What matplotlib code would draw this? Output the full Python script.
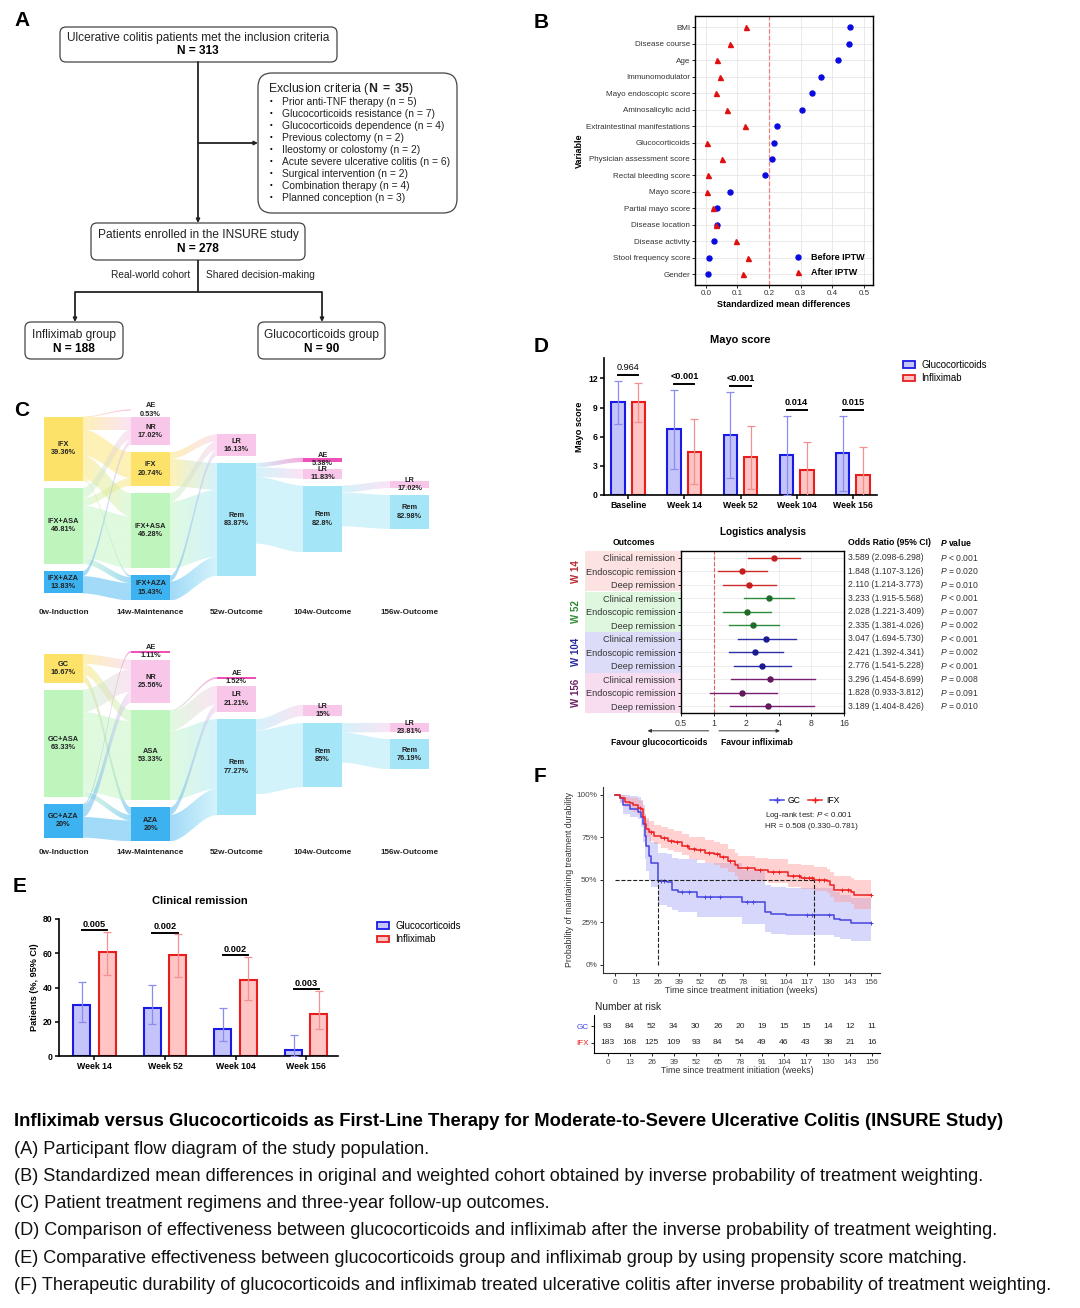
import numpy as np
import matplotlib
matplotlib.use('Agg')
import matplotlib.pyplot as plt
import matplotlib.transforms as mtrans
from matplotlib.patches import FancyBboxPatch, Rectangle, Polygon, Patch
from matplotlib.lines import Line2D
from matplotlib.colors import to_rgba

plt.rcParams['font.family'] = ['Liberation Sans', 'DejaVu Sans']
plt.rcParams['mathtext.fontset'] = 'custom'
plt.rcParams['mathtext.rm'] = 'Liberation Sans'
plt.rcParams['mathtext.it'] = 'Liberation Sans:italic'
plt.rcParams['mathtext.bf'] = 'Liberation Sans:bold'
try:
    plt.rcParams['mathtext.bfit'] = 'Liberation Sans:italic:bold'
    PHEAD = r'$\mathbfit{P}$ value'
except KeyError:
    PHEAD = r'$P$ value'

# ---------------- data ----------------
# panel A
excl_items = ['Prior anti-TNF therapy (n = 5)', 'Glucocorticoids resistance (n = 7)',
              'Glucocorticoids dependence (n = 4)', 'Previous colectomy (n = 2)',
              'Ileostomy or colostomy (n = 2)', 'Acute severe ulcerative colitis (n = 6)',
              'Surgical intervention (n = 2)', 'Combination therapy (n = 4)',
              'Planned conception (n = 3)']

# panel B
smd_vars = ['BMI', 'Disease course', 'Age', 'Immunomodulator', 'Mayo endoscopic score',
            'Aminosalicylic acid', 'Extraintestinal manifestations', 'Glucocorticoids',
            'Physician assessment score', 'Rectal bleeding score', 'Mayo score',
            'Partial mayo score', 'Disease location', 'Disease activity',
            'Stool frequency score', 'Gender']
smd_before = [0.455, 0.453, 0.417, 0.364, 0.335, 0.304, 0.224, 0.216, 0.210, 0.186,
              0.075, 0.037, 0.035, 0.025, 0.010, 0.006]
smd_after = [0.127, 0.075, 0.036, 0.046, 0.032, 0.068, 0.124, 0.004, 0.051, 0.006,
             0.004, 0.022, 0.032, 0.095, 0.134, 0.119]

# panel C (patients per node, flows as (stage, source, target, n))
stage_titles = ['0w-Induction', '14w-Maintenance', '52w-Outcome', '104w-Outcome', '156w-Outcome']
ifx_names = [['IFX', 'IFX+ASA', 'IFX+AZA'], ['AE', 'NR', 'IFX', 'IFX+ASA', 'IFX+AZA'],
             ['LR', 'Rem'], ['AE', 'LR', 'Rem'], ['LR', 'Rem']]
ifx_counts = [[74, 88, 26], [1, 32, 39, 87, 29], [25, 130], [5, 11, 77], [8, 39]]
ifx_pcts = [['39.36%', '46.81%', '13.83%'], ['0.53%', '17.02%', '20.74%', '46.28%', '15.43%'],
            ['16.13%', '83.87%'], ['5.38%', '11.83%', '82.8%'], ['17.02%', '82.98%']]
ifx_flows = [(0, 0, 0, 1), (0, 0, 1, 14), (0, 0, 2, 30), (0, 0, 3, 27), (0, 0, 4, 2),
             (0, 1, 1, 12), (0, 1, 2, 9), (0, 1, 3, 60), (0, 1, 4, 7),
             (0, 2, 1, 6), (0, 2, 4, 20),
             (1, 2, 0, 8), (1, 2, 1, 31), (1, 3, 0, 10), (1, 3, 1, 77), (1, 4, 0, 7), (1, 4, 1, 22),
             (2, 1, 0, 5), (2, 1, 1, 11), (2, 1, 2, 77),
             (3, 2, 0, 8), (3, 2, 1, 39)]
gc_names = [['GC', 'GC+ASA', 'GC+AZA'], ['AE', 'NR', 'ASA', 'AZA'],
            ['AE', 'LR', 'Rem'], ['LR', 'Rem'], ['LR', 'Rem']]
gc_counts = [[15, 57, 18], [1, 23, 48, 18], [1, 14, 51], [6, 34], [5, 16]]
gc_pcts = [['16.67%', '63.33%', '20%'], ['1.11%', '25.56%', '53.33%', '20%'],
           ['1.52%', '21.21%', '77.27%'], ['15%', '85%'], ['23.81%', '76.19%']]
gc_flows = [(0, 0, 1, 5), (0, 0, 2, 6), (0, 0, 3, 4),
            (0, 1, 1, 12), (0, 1, 2, 42), (0, 1, 3, 3),
            (0, 2, 0, 1), (0, 2, 1, 6), (0, 2, 3, 11),
            (1, 2, 0, 1), (1, 2, 1, 10), (1, 2, 2, 37), (1, 3, 1, 4), (1, 3, 2, 14),
            (2, 2, 0, 6), (2, 2, 1, 34),
            (3, 1, 0, 5), (3, 1, 1, 16)]
node_colors = {'IFX': '#FDE26A', 'GC': '#FDE26A', 'IFX+ASA': '#BDF5BD', 'GC+ASA': '#BDF5BD',
               'ASA': '#BDF5BD', 'IFX+AZA': '#3DB2F0', 'GC+AZA': '#3DB2F0', 'AZA': '#3DB2F0',
               'NR': '#F8C6E8', 'LR': '#F8C6E8', 'AE': '#EE50B8', 'Rem': '#A4E6F8'}

# panel D
mayo_groups = ['Baseline', 'Week 14', 'Week 52', 'Week 104', 'Week 156']
mayo_gc = [9.55, 6.75, 6.2, 4.1, 4.3]
mayo_gc_sd = [2.2, 4.1, 4.45, 4.05, 3.85]
mayo_ifx = [9.55, 4.45, 3.9, 2.6, 2.1]
mayo_ifx_sd = [2.0, 3.35, 3.25, 2.9, 2.85]
mayo_p = ['0.964', '<0.001', '<0.001', '0.014', '0.015']

forest_groups = ['W 14', 'W 52', 'W 104', 'W 156']
forest_outcomes = ['Clinical remission', 'Endoscopic remission', 'Deep remission'] * 4
forest_or = [3.589, 1.848, 2.110, 3.233, 2.028, 2.335, 3.047, 2.421, 2.776, 3.296, 1.828, 3.189]
forest_lo = [2.098, 1.107, 1.214, 1.915, 1.221, 1.381, 1.694, 1.392, 1.541, 1.454, 0.933, 1.404]
forest_hi = [6.298, 3.126, 3.773, 5.568, 3.409, 4.026, 5.730, 4.341, 5.228, 8.699, 3.812, 8.426]
forest_p = ['< 0.001', '= 0.020', '= 0.010', '< 0.001', '= 0.007', '= 0.002',
            '< 0.001', '= 0.002', '< 0.001', '= 0.008', '= 0.091', '= 0.010']

# panel E
cr_groups = ['Week 14', 'Week 52', 'Week 104', 'Week 156']
cr_gc = [30.0, 28.3, 15.8, 3.4]
cr_gc_lo = [20.0, 18.5, 8.5, 0.0]
cr_gc_hi = [43.5, 41.5, 27.8, 12.0]
cr_ifx = [60.5, 58.7, 44.5, 24.8]
cr_ifx_lo = [47.5, 46.0, 32.5, 15.5]
cr_ifx_hi = [72.5, 71.0, 57.8, 37.8]
cr_p = ['0.005', '0.002', '0.002', '0.003']

# panel F
gc_t = [0, 3, 5, 9, 14, 16, 17, 18, 19, 20.5, 22, 26.3, 31.5, 34.5, 38.5, 49.6, 77, 91, 95, 104,
        133, 137, 143.6]
gc_s = [1.0, 0.98, 0.94, 0.92, 0.90, 0.87, 0.83, 0.76, 0.70, 0.64, 0.60, 0.494, 0.485, 0.44,
        0.425, 0.40, 0.366, 0.31, 0.30, 0.295, 0.27, 0.26, 0.242]
gc_lo = [1.0, 0.95, 0.89, 0.87, 0.86, 0.81, 0.72, 0.62, 0.55, 0.50, 0.46, 0.35, 0.34, 0.32,
         0.31, 0.28, 0.24, 0.19, 0.18, 0.175, 0.16, 0.15, 0.14]
gc_hi = [1.0, 1.0, 1.0, 0.995, 0.99, 0.97, 0.94, 0.89, 0.85, 0.80, 0.72, 0.66, 0.65, 0.63,
         0.62, 0.60, 0.56, 0.47, 0.46, 0.45, 0.43, 0.41, 0.39]
gc_cens = [28, 30, 41, 45, 55, 58, 64, 80, 84, 117, 120, 130, 156]
ifx_t = [0, 3, 6, 9, 11, 14, 16, 17, 18, 19, 20.5, 24, 28, 32, 36, 41, 45, 49, 55, 60,
         64, 69, 73, 75, 85, 93, 105, 113, 121, 129, 131, 133, 143.6, 145.6]
ifx_s = [1.0, 0.98, 0.96, 0.95, 0.94, 0.925, 0.915, 0.87, 0.83, 0.80, 0.78, 0.76, 0.745, 0.73,
         0.72, 0.70, 0.68, 0.675, 0.66, 0.65, 0.635, 0.61, 0.585, 0.567, 0.557, 0.545, 0.52,
         0.51, 0.50, 0.49, 0.47, 0.44, 0.43, 0.41]
ifx_lo = [1.0, 0.96, 0.93, 0.91, 0.90, 0.88, 0.87, 0.82, 0.78, 0.75, 0.73, 0.71, 0.69, 0.675,
          0.665, 0.645, 0.625, 0.615, 0.60, 0.585, 0.57, 0.545, 0.52, 0.50, 0.49, 0.48, 0.455,
          0.445, 0.435, 0.42, 0.40, 0.37, 0.355, 0.33]
ifx_hi = [1.0, 1.0, 0.99, 0.985, 0.98, 0.97, 0.965, 0.925, 0.89, 0.865, 0.845, 0.825, 0.81,
          0.80, 0.79, 0.77, 0.755, 0.75, 0.735, 0.72, 0.71, 0.68, 0.655, 0.64, 0.63, 0.62,
          0.595, 0.585, 0.575, 0.565, 0.545, 0.52, 0.51, 0.50]
ifx_cens = [15, 22, 30, 34, 38, 44, 48, 52, 57, 62, 66, 70, 80, 88, 96, 100, 108, 112, 115,
            118, 120, 124, 127, 138, 142, 156]
risk_times = list(range(0, 157, 13))
risk_gc = [93, 84, 52, 34, 30, 26, 20, 19, 15, 15, 14, 12, 11]
risk_ifx = [183, 168, 125, 109, 93, 84, 54, 49, 46, 43, 38, 21, 16]

captions = ['(A) Participant flow diagram of the study population.',
            '(B) Standardized mean differences in original and weighted cohort obtained by inverse probability of treatment weighting.',
            '(C) Patient treatment regimens and three-year follow-up outcomes.',
            '(D) Comparison of effectiveness between glucocorticoids and infliximab after the inverse probability of treatment weighting.',
            '(E) Comparative effectiveness between glucocorticoids group and infliximab group by using propensity score matching.',
            '(F) Therapeutic durability of glucocorticoids and infliximab treated ulcerative colitis after inverse probability of treatment weighting.']

# ---------------- figure ----------------
W, H = 1080, 1308
fig = plt.figure(figsize=(W / 100, H / 100), dpi=100)
canvas = fig.add_axes([0, 0, 1, 1])
canvas.axis('off')


def px_axes(x0, y0, x1, y1):
    return fig.add_axes([x0 / W, 1 - y1 / H, (x1 - x0) / W, (y1 - y0) / H])


def letter(x, y, s):
    canvas.text(x, y, s, fontsize=15, fontweight='bold', ha='center', va='center')


GC_FACE, GC_EDGE, GC_ERR = '#C4C4FA', '#1A1AE6', '#8C8CF0'
IFX_FACE, IFX_EDGE, IFX_ERR = '#FFC4C4', '#E81E1E', '#F59090'

# ---- A: flow chart
def fbox(x0, y0, x1, y1, r=6):
    canvas.add_patch(FancyBboxPatch((x0, y0), x1 - x0, y1 - y0,
                                    boxstyle='round,pad=0,rounding_size=%g' % r,
                                    fc='white', ec='#444444', lw=0.9))


def arrow(x0, y0, x1, y1):
    canvas.annotate('', xy=(x1, y1), xytext=(x0, y0),
                    arrowprops=dict(arrowstyle='-|>', lw=1.3, color='#222222',
                                    mutation_scale=5, shrinkA=0, shrinkB=0))


def seg(x0, y0, x1, y1):
    canvas.plot([x0, x1], [y0, y1], color='#222222', lw=1.3, solid_capstyle='butt')


letter(22, 20, 'A')
fbox(60, 27, 337, 62)
canvas.text(198, 37.5, 'Ulcerative colitis patients met the inclusion criteria', fontsize=8.6,
            ha='center', va='center', color='#222222')
canvas.text(198, 51, 'N = 313', fontsize=8.6, fontweight='bold', ha='center', va='center')
arrow(198, 62, 198, 223)
arrow(198, 143, 258, 143)
fbox(258, 73, 457, 213, 14)
canvas.text(268, 89, r'Exclusion criteria ($\mathbf{N\ =\ 35}$)', fontsize=8.8, va='center',
            color='#222222')
for i, item in enumerate(excl_items):
    canvas.text(270, 102 + 12 * i, '\u2022', fontsize=5.5, va='center')
    canvas.text(282, 102 + 12 * i, item, fontsize=7.35, va='center', color='#222222')
fbox(91, 223, 305, 260)
canvas.text(198, 235, 'Patients enrolled in the INSURE study', fontsize=8.6, ha='center',
            va='center', color='#222222')
canvas.text(198, 249, 'N = 278', fontsize=8.6, fontweight='bold', ha='center', va='center')
seg(198, 260, 198, 292)
canvas.text(190, 275, 'Real-world cohort', fontsize=7.3, ha='right', va='center', color='#222222')
canvas.text(206, 275, 'Shared decision-making', fontsize=7.3, ha='left', va='center', color='#222222')
seg(75, 292, 322, 292)
arrow(75, 292, 75, 322)
arrow(322, 292, 322, 322)
fbox(25, 322, 123, 359)
canvas.text(74, 335, 'Infliximab group', fontsize=8.6, ha='center', va='center', color='#222222')
canvas.text(74, 349, 'N = 188', fontsize=8.6, fontweight='bold', ha='center', va='center')
fbox(258, 322, 385, 359)
canvas.text(321.5, 335, 'Glucocorticoids group', fontsize=8.6, ha='center', va='center',
            color='#222222')
canvas.text(321.5, 349, 'N = 90', fontsize=8.6, fontweight='bold', ha='center', va='center')

# ---- C: sankey diagrams
col_x = [44, 131, 217, 303, 390]
NW, GAP = 39, 7


def sankey(names, counts, pcts, flows, cy, scale, label_y):
    nodes = []
    for cnts in counts:
        total = sum(cnts) * scale + GAP * (len(cnts) - 1)
        y = cy - total / 2
        col = []
        for n in cnts:
            col.append((y, y + n * scale))
            y += n * scale + GAP
        nodes.append(col)
    src_y, dst_y = {}, {}
    off = {}
    for f in sorted(flows, key=lambda f: (f[0], f[1], f[2])):
        key = (f[0], f[1])
        off.setdefault(key, nodes[f[0]][f[1]][0])
        src_y[f] = off[key]
        off[key] += f[3] * scale
    off = {}
    for f in sorted(flows, key=lambda f: (f[0], f[2], f[1])):
        key = (f[0] + 1, f[2])
        off.setdefault(key, nodes[f[0] + 1][f[2]][0])
        dst_y[f] = off[key]
        off[key] += f[3] * scale
    t = np.linspace(0, 1, 60)
    sm = 3 * t ** 2 - 2 * t ** 3
    for f in flows:
        c, s, d, v = f
        h = v * scale
        x0, x1 = col_x[c] + NW, col_x[c + 1]
        ys, yt = src_y[f], dst_y[f]
        xs = x0 + (x1 - x0) * t
        top = ys + (yt - ys) * sm
        bot = top + h
        poly = Polygon(np.column_stack([np.r_[xs, xs[::-1]], np.r_[top, bot[::-1]]]),
                       closed=True, fc='none', ec='none')
        canvas.add_patch(poly)
        c0 = np.array(to_rgba(node_colors[names[c][s]]))
        c1 = np.array(to_rgba(node_colors[names[c + 1][d]]))
        grad = np.array([c0 + (c1 - c0) * k for k in np.linspace(0, 1, 64)])[None, :, :]
        grad[..., 3] = 0.48
        im = canvas.imshow(grad, extent=[x0, x1, max(ys, yt) + h, min(ys, yt)],
                           aspect='auto', interpolation='bilinear', zorder=1)
        im.set_clip_path(poly)
    for c, col in enumerate(nodes):
        for i, (y0, y1) in enumerate(col):
            canvas.add_patch(Rectangle((col_x[c], y0), NW, y1 - y0,
                                       fc=node_colors[names[c][i]], ec='none', zorder=3))
            canvas.text(col_x[c] + NW / 2, (y0 + y1) / 2, names[c][i] + '\n' + pcts[c][i],
                        fontsize=5.3, fontweight='bold', ha='center', va='center',
                        color='#222222', zorder=4, linespacing=1.25)
        canvas.text(col_x[c] + NW / 2, label_y, stage_titles[c], fontsize=5.9,
                    fontweight='bold', ha='center', va='center', color='#222222')


letter(22, 410, 'C')
sankey(ifx_names, ifx_counts, ifx_pcts, ifx_flows, 505, 0.867, 613)
sankey(gc_names, gc_counts, gc_pcts, gc_flows, 746, 1.883, 853)

# ---- captions
canvas.text(14, 1121, 'Infliximab versus Glucocorticoids as First-Line Therapy for '
            'Moderate-to-Severe Ulcerative Colitis (INSURE Study)', fontsize=13.2,
            fontweight='bold', va='center')
for i, cap in enumerate(captions):
    canvas.text(14, 1149 + 27.3 * i, cap, fontsize=13.1, va='center', color='#111111')

# ---- B: SMD dot plot
letter(541, 22, 'B')
axB = px_axes(695, 16, 873, 285)
yy = np.arange(len(smd_vars))
axB.grid(True, color='#E6E6E6', lw=0.6)
axB.set_axisbelow(True)
axB.axvline(0.2, color='#F08080', ls='--', lw=0.9)
axB.plot(smd_before, yy, 'o', color='#0A0AE0', ms=3.6, label='Before IPTW', ls='none')
axB.plot(smd_after, yy, '^', color='#E01010', ms=3.6, label='After IPTW', ls='none')
axB.set_xlim(-0.034, 0.528)
axB.set_ylim(len(smd_vars) - 0.34, -0.69)
axB.set_yticks(yy)
axB.set_yticklabels(smd_vars, fontsize=5.75, color='#333333')
axB.set_xticks([0, 0.1, 0.2, 0.3, 0.4, 0.5])
axB.set_xticklabels(['0.0', '0.1', '0.2', '0.3', '0.4', '0.5'], fontsize=5.75, color='#333333')
axB.tick_params(length=2, width=0.6, pad=1.5)
for sp in axB.spines.values():
    sp.set_linewidth(1.0)
axB.set_xlabel('Standardized mean differences', fontsize=6.5, fontweight='bold', labelpad=2)
axB.set_ylabel('Variable', fontsize=6.5, fontweight='bold', labelpad=2)
axB.legend(loc='lower right', frameon=False, prop={'size': 6.5, 'weight': 'bold'},
           handletextpad=0.5, borderaxespad=0.5, labelspacing=0.6)


# ---- bar chart helper for D and E
def bar_panel(ax, groups, gv, g_lo, g_hi, iv, i_lo, i_hi, pvals, p_bold, p_off):
    x = np.arange(len(groups))
    ax.bar(x - 0.18, gv, 0.24, color=GC_FACE, edgecolor=GC_EDGE, lw=1.5, zorder=2)
    ax.bar(x + 0.18, iv, 0.24, color=IFX_FACE, edgecolor=IFX_EDGE, lw=1.5, zorder=2)
    ax.errorbar(x - 0.18, gv, yerr=[np.subtract(gv, g_lo), np.subtract(g_hi, gv)], fmt='none',
                ecolor=GC_ERR, elinewidth=0.9, capsize=3, capthick=0.9, zorder=3)
    ax.errorbar(x + 0.18, iv, yerr=[np.subtract(iv, i_lo), np.subtract(i_hi, iv)], fmt='none',
                ecolor=IFX_ERR, elinewidth=0.9, capsize=3, capthick=0.9, zorder=3)
    for k in range(len(groups)):
        yl = max(g_hi[k], i_hi[k]) + p_off
        ax.plot([x[k] - 0.18, x[k] + 0.18], [yl, yl], color='black', lw=1.4)
        ax.text(x[k], yl + p_off * 0.6, pvals[k], fontsize=6.6, ha='center', va='bottom',
                fontweight='bold' if p_bold[k] else 'normal')
    ax.set_xticks(x)
    ax.set_xticklabels(groups, fontsize=6.3, fontweight='bold')
    ax.spines[['top', 'right']].set_visible(False)
    for sp in ['left', 'bottom']:
        ax.spines[sp].set_linewidth(1.2)
    ax.tick_params(width=1.1, length=3, pad=1.5)
    ax.patch.set_alpha(0)


def bold_yticks(ax):
    for lab in ax.get_yticklabels():
        lab.set_fontweight('bold')
        lab.set_fontsize(6.2)


def bar_legend(ax, x, y):
    hs = [Patch(fc=GC_FACE, ec=GC_EDGE, lw=1.3), Patch(fc=IFX_FACE, ec=IFX_EDGE, lw=1.3)]
    ax.legend(hs, ['Glucocorticoids', 'Infliximab'], loc='upper left', frameon=False,
              bbox_to_anchor=(x / W, 1 - y / H), bbox_transform=fig.transFigure,
              fontsize=6.9, handlelength=1.2, handleheight=0.65, labelspacing=0.35,
              borderaxespad=0, borderpad=0, handletextpad=0.7)


# ---- D: Mayo score
letter(541, 347, 'D')
axD = px_axes(604, 358, 877, 495)
mlo = np.subtract(mayo_gc, mayo_gc_sd)
mhi = np.add(mayo_gc, mayo_gc_sd)
ilo = np.subtract(mayo_ifx, mayo_ifx_sd)
ihi = np.add(mayo_ifx, mayo_ifx_sd)
bar_panel(axD, mayo_groups, mayo_gc, mlo, mhi, mayo_ifx, ilo, ihi, mayo_p,
          [p.startswith('<') or float(p) < 0.05 for p in mayo_p], 0.55)
axD.set_xlim(-0.43, 4.43)
axD.set_ylim(0, 14.1)
axD.set_yticks([0, 3, 6, 9, 12])
bold_yticks(axD)
axD.set_ylabel('Mayo score', fontsize=6.6, fontweight='bold', labelpad=3)
canvas.text(740, 340, 'Mayo score', fontsize=7.9, fontweight='bold', ha='center', va='center')
bar_legend(axD, 903, 360)

# ---- D: forest plot
grp_band = ['#FDE2E2', '#DFF7DF', '#DCDCF8', '#F8DDF1']
grp_line = ['#CC2A2A', '#2E8B3A', '#2E2EA8', '#7A2070']
grp_dot = ['#C41E1E', '#1E6A28', '#1A1A90', '#62185A']
grp_text = ['#B8282D', '#2E8B2E', '#2A2AA0', '#6E1D62']
axG = px_axes(681, 551, 844, 713)
rows = np.arange(len(forest_or))
for k in range(len(forest_groups)):
    axG.add_patch(Rectangle((-0.589, 1 - 0.25 * (k + 1)), 0.589, 0.25, transform=axG.transAxes,
                            fc=grp_band[k], ec='none', clip_on=False, zorder=0))
    axG.text(-0.645, 1 - 0.25 * (k + 0.5), forest_groups[k], rotation=90, transform=axG.transAxes,
             ha='center', va='center', fontsize=7, fontweight='bold', color=grp_text[k])
axG.set_xscale('log', base=2)
axG.grid(True, color='#E8E8E8', lw=0.5)
axG.set_axisbelow(True)
axG.axvline(1, color='#E06060', ls='--', lw=0.8)
for i in rows:
    g = i // 3
    axG.plot([forest_lo[i], forest_hi[i]], [i, i], color=grp_line[g], lw=1.0)
    axG.plot(forest_or[i], i, 'o', color=grp_dot[g], ms=3.6)
axG.set_xlim(0.5, 16)
axG.set_ylim(len(rows) - 0.5, -0.5)
axG.set_xticks([0.5, 1, 2, 4, 8, 16])
axG.set_xticklabels(['0.5', '1', '2', '4', '8', '16'], fontsize=6.3, color='#333333')
axG.minorticks_off()
axG.set_yticks(rows)
axG.set_yticklabels(forest_outcomes, fontsize=6.6, color='#333333')
axG.tick_params(length=2.5, width=0.6, pad=1.5)
for sp in axG.spines.values():
    sp.set_linewidth(1.0)
tr = mtrans.blended_transform_factory(axG.transAxes, axG.transData)
for i in rows:
    axG.text(1.025, i, '%.3f (%.3f-%.3f)' % (forest_or[i], forest_lo[i], forest_hi[i]),
             transform=tr, fontsize=6.2, va='center', color='#333333')
    axG.text(1.589, i, '$P$ ' + forest_p[i], transform=tr, fontsize=6.2, va='center',
             color='#333333')
axG.text(1.025, 1.05, 'Odds Ratio (95% CI)', transform=axG.transAxes, fontsize=6.2,
         fontweight='bold', va='center')
axG.text(1.589, 1.05, PHEAD, transform=axG.transAxes, fontsize=6.2, fontweight='bold',
         va='center')
axG.text(-0.29, 1.05, 'Outcomes', transform=axG.transAxes, fontsize=6.2, fontweight='bold',
         ha='center', va='center')
axG.text(0.503, 1.115, 'Logistics analysis', transform=axG.transAxes, fontsize=7.2,
         fontweight='bold', ha='center', va='center')
axG.annotate('', xy=(-0.205, -0.11), xytext=(0.17, -0.11), xycoords='axes fraction',
             arrowprops=dict(arrowstyle='-|>', color='#333333', lw=0.7, mutation_scale=5,
                             shrinkA=0, shrinkB=0))
axG.annotate('', xy=(0.607, -0.11), xytext=(0.233, -0.11), xycoords='axes fraction',
             arrowprops=dict(arrowstyle='-|>', color='#333333', lw=0.7, mutation_scale=5,
                             shrinkA=0, shrinkB=0))
axG.text(-0.135, -0.18, 'Favour glucocorticoids', transform=axG.transAxes, fontsize=6.2,
         fontweight='bold', ha='center', va='center')
axG.text(0.466, -0.18, 'Favour infliximab', transform=axG.transAxes, fontsize=6.2,
         fontweight='bold', ha='center', va='center')

# ---- E: clinical remission
letter(20, 887, 'E')
axE = px_axes(59, 919, 338, 1056)
bar_panel(axE, cr_groups, cr_gc, cr_gc_lo, cr_gc_hi, cr_ifx, cr_ifx_lo, cr_ifx_hi, cr_p,
          [True] * 4, 1.1)
axE.set_xlim(-0.5, 3.45)
axE.set_ylim(0, 80)
axE.set_yticks([0, 20, 40, 60, 80])
bold_yticks(axE)
axE.set_ylabel('Patients (%, 95% CI)', fontsize=6.6, fontweight='bold', labelpad=3)
canvas.text(200, 901, 'Clinical remission', fontsize=8, fontweight='bold', ha='center', va='center')
bar_legend(axE, 377, 921)

# ---- F: Kaplan-Meier
letter(540, 776, 'F')
axF = px_axes(603, 787, 880, 973)
KM_GC, KM_IFX = '#4646E0', '#EE2020'


def km(ax, t, s, lo, hi, cens, line_col, band_col, band_alpha):
    tx = np.r_[t, 156]
    ax.fill_between(tx, np.r_[lo, lo[-1]], np.r_[hi, hi[-1]], step='post', color=band_col,
                    alpha=band_alpha, lw=0)
    ax.step(tx, np.r_[s, s[-1]], where='post', color=line_col, lw=1.1)
    idx = np.searchsorted(t, cens, side='right') - 1
    ax.plot(cens, np.asarray(s)[idx], '+', color=line_col, ms=3, mew=0.7, ls='none')


km(axF, gc_t, gc_s, gc_lo, gc_hi, gc_cens, KM_GC, '#A8A8FA', 0.45)
km(axF, ifx_t, ifx_s, ifx_lo, ifx_hi, ifx_cens, KM_IFX, '#FF9A9A', 0.45)
med_gc = gc_t[next(i for i, v in enumerate(gc_s) if v <= 0.5)]
med_ifx = ifx_t[next(i for i, v in enumerate(ifx_s) if v <= 0.5)]
axF.plot([0, max(med_gc, med_ifx)], [0.5, 0.5], color='#222222', ls='--', lw=0.8)
for m in (med_gc, med_ifx):
    axF.plot([m, m], [0, 0.5], color='#222222', ls='--', lw=0.8)
axF.set_xlim(-7.3, 161.2)
axF.set_ylim(-0.05, 1.047)
axF.set_xticks(risk_times)
axF.set_yticks([0, 0.25, 0.5, 0.75, 1.0])
axF.set_yticklabels(['0%', '25%', '50%', '75%', '100%'])
axF.tick_params(labelsize=5.9, labelcolor='#444444', length=2.5, width=0.6, pad=1.5)
axF.spines[['top', 'right']].set_visible(False)
for sp in ['left', 'bottom']:
    axF.spines[sp].set_linewidth(0.8)
    axF.spines[sp].set_color('#333333')
axF.set_xlabel('Time since treatment initiation (weeks)', fontsize=6.4, color='#333333', labelpad=0.5)
axF.set_ylabel('Probability of maintaining treatment durability', fontsize=6.3, color='#333333',
               labelpad=2)
hl = [Line2D([], [], color=KM_GC, marker='+', ms=4, lw=1.1),
      Line2D([], [], color=KM_IFX, marker='+', ms=4, lw=1.1)]
axF.legend(hl, ['GC', 'IFX'], loc='center left', bbox_to_anchor=(0.575, 0.925), ncol=2,
           frameon=False, fontsize=6.2, handlelength=1.6, columnspacing=0.8, handletextpad=0.5)
axF.text(0.585, 0.845, 'Log-rank test: $P$ < 0.001', transform=axF.transAxes, fontsize=5.8,
         va='center', color='#222222')
axF.text(0.585, 0.785, 'HR = 0.508 (0.330\u20130.781)', transform=axF.transAxes, fontsize=5.8,
         va='center', color='#222222')

axR = px_axes(594, 1015, 880, 1053)
for k, tt in enumerate(risk_times):
    axR.text(tt, 0, str(risk_gc[k]), ha='center', va='center', fontsize=6.1, color='#222222')
    axR.text(tt, 1, str(risk_ifx[k]), ha='center', va='center', fontsize=6.1, color='#222222')
axR.set_xlim(-8.1, 160.7)
axR.set_ylim(1.59, -0.65)
axR.set_xticks(risk_times)
axR.set_yticks([0, 1])
axR.set_yticklabels(['GC', 'IFX'])
axR.get_yticklabels()[0].set_color(KM_GC)
axR.get_yticklabels()[1].set_color(KM_IFX)
axR.tick_params(labelsize=5.9, length=2.5, width=0.6, pad=1.5)
axR.tick_params(axis='x', labelcolor='#444444')
axR.spines[['top', 'right']].set_visible(False)
for sp in ['left', 'bottom']:
    axR.spines[sp].set_linewidth(0.8)
axR.set_xlabel('Time since treatment initiation (weeks)', fontsize=6.4, color='#333333', labelpad=0.5)
canvas.text(595, 1007, 'Number at risk', fontsize=7.3, va='center', color='#222222')

canvas.set_xlim(0, W)
canvas.set_ylim(H, 0)
fig.savefig('out.png', dpi=100)
